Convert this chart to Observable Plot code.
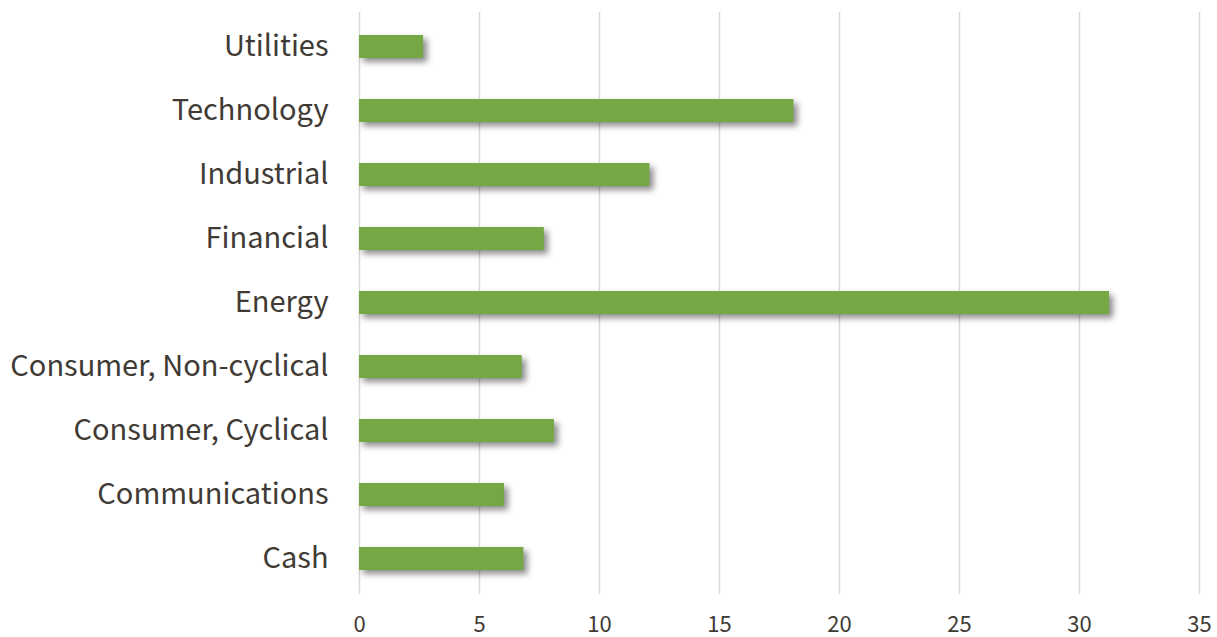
<!DOCTYPE html>
<html>
<head>
<meta charset="utf-8">
<script src="https://cdn.jsdelivr.net/npm/d3@7"></script>
<script src="https://cdn.jsdelivr.net/npm/@observablehq/plot@0.6"></script>
<style>
  html, body { margin: 0; padding: 0; background: #fff; }
  #chart svg { font-family: "Noto Sans CJK SC", "Noto Sans", sans-serif; }
  #chart g[aria-label="bar"] { filter: drop-shadow(4px 4px 3px rgba(0,0,0,0.45)); }
</style>
</head>
<body>
<div id="chart"></div>
<script>
const categories = ["Utilities", "Technology", "Industrial", "Financial", "Energy", "Consumer, Non-cyclical", "Consumer, Cyclical", "Communications", "Cash"];
const values = [2.67, 18.1, 12.1, 7.7, 31.25, 6.78, 8.12, 6.04, 6.85];
const xTicks = [0, 5, 10, 15, 20, 25, 30, 35];

const data = categories.map((c, i) => ({category: c, value: values[i]}));

const chart = Plot.plot({
  width: 1217,
  height: 637,
  marginLeft: 359,
  marginRight: 18,
  marginTop: 12,
  marginBottom: 43,
  style: {fontFamily: "'Noto Sans CJK SC', 'Noto Sans', sans-serif", color: "#403a35", background: "#fff"},
  x: {domain: [0, 35], ticks: xTicks, label: null},
  y: {domain: categories, paddingInner: 0.64, paddingOuter: 0.323, label: null},
  marks: [
    Plot.ruleX(xTicks, {stroke: "#d9d9d9", strokeWidth: 1.5, strokeOpacity: 1}),
    Plot.barX(data, {x: "value", y: "category", fill: "#73a844"}),
    Plot.axisX({ticks: xTicks, tickSize: 0, tickPadding: 22, fontSize: 22, fill: "#403a35", label: null}),
    Plot.axisY({tickSize: 0, tickPadding: 31, fontSize: 29, fill: "#403a35", label: null})
  ]
});
document.getElementById("chart").appendChild(chart);
</script>
</body>
</html>
